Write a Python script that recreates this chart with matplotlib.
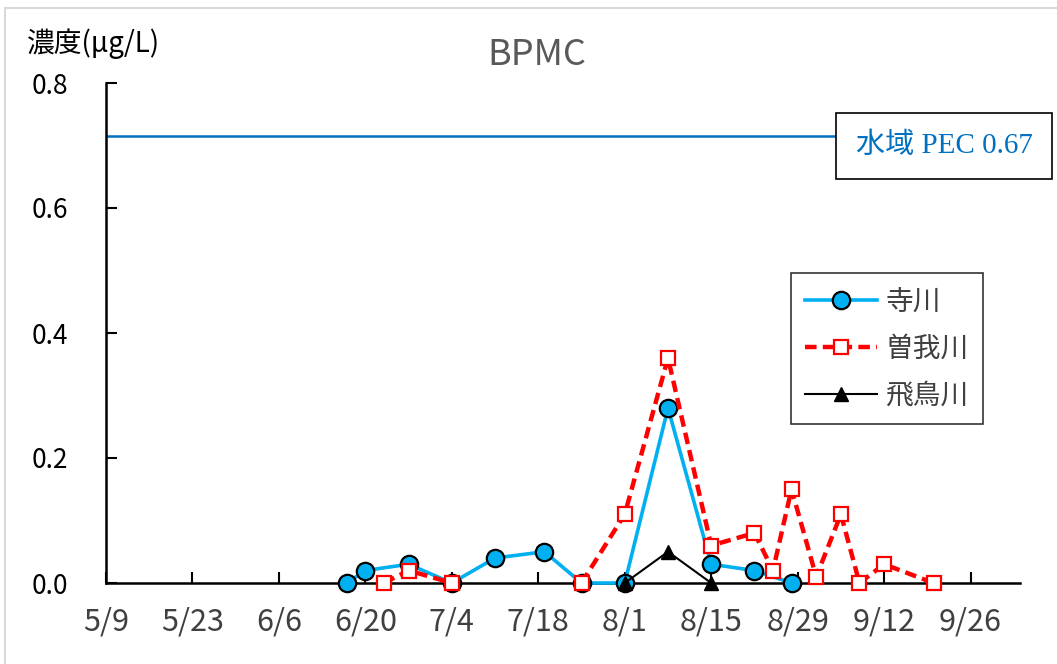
import matplotlib
matplotlib.use("Agg")
import matplotlib.pyplot as plt
from matplotlib.patches import Rectangle
from datetime import date
import numpy as np

plt.rcParams['font.family'] = ['Noto Sans CJK JP', 'DejaVu Sans']

YEAR = 2021

# 寺川
tera_dates = ['6/17', '6/20', '6/27', '7/4', '7/11', '7/19', '7/25', '8/1', '8/8', '8/15', '8/22', '8/28']
tera_vals = [0.0, 0.02, 0.03, 0.0, 0.04, 0.05, 0.0, 0.0, 0.28, 0.03, 0.02, 0.0]

# 曽我川 (no sample in mid July -> gap in the line)
soga_dates = ['6/23', '6/27', '7/4', '7/18', '7/25', '8/1', '8/8', '8/15', '8/22', '8/25', '8/28',
              '9/1', '9/5', '9/8', '9/12', '9/20']
soga_vals = [0.0, 0.02, 0.0, np.nan, 0.0, 0.11, 0.36, 0.06, 0.08, 0.02, 0.15, 0.01, 0.11, 0.0, 0.03, 0.0]

# 飛鳥川
asuka_dates = ['8/1', '8/8', '8/15']
asuka_vals = [0.0, 0.05, 0.0]

pec_level = 0.715
pec_label = '水域 PEC 0.67'

tick_labels = ['5/9', '5/23', '6/6', '6/20', '7/4', '7/18', '8/1', '8/15', '8/29', '9/12', '9/26']


def to_date(s):
    m, d = s.split('/')
    return date(YEAR, int(m), int(d))


fig = plt.figure(figsize=(10.57, 6.64), dpi=100)
ax = fig.add_axes([106 / 1057, 1 - 583 / 664, (1020 - 106) / 1057, 500 / 664])

# light outer frame of the chart area
fig.patches.append(Rectangle((5 / 1057, -0.1), 1.2, 1 - 8 / 664 + 0.1, transform=fig.transFigure,
                             fill=False, edgecolor='#d9d9d9', linewidth=1.5))

ax.axhline(pec_level, color='#0070c0', linewidth=1.8, zorder=1)

ax.plot([to_date(s) for s in tera_dates], tera_vals, color='#00b0f0', linewidth=2.6,
        marker='o', markersize=12.5, markerfacecolor='#00b0f0', markeredgecolor='black',
        markeredgewidth=1.6, label='寺川', zorder=3, clip_on=False)
ax.plot([to_date(s) for s in soga_dates], soga_vals, color='#ff0000', linewidth=3.2,
        linestyle=(0, (2.6, 1.4)), marker='s', markersize=10, markerfacecolor='white',
        markeredgecolor='#ff0000', markeredgewidth=1.6, label='曽我川', zorder=4, clip_on=False)
ax.plot([to_date(s) for s in asuka_dates], asuka_vals, color='black', linewidth=1.5,
        marker='^', markersize=10.5, markerfacecolor='black', markeredgecolor='black',
        label='飛鳥川', zorder=5, clip_on=False)

ax.set_xlim(date(YEAR, 5, 9), date(YEAR, 10, 4))
ax.set_ylim(0, 0.8)
ax.set_xticks([to_date(s) for s in tick_labels])
ax.set_xticklabels(tick_labels, fontsize=22, color='#404040')
ax.set_yticks([0, 0.2, 0.4, 0.6, 0.8])
ax.set_yticklabels(['0.0', '0.2', '0.4', '0.6', '0.8'], fontsize=19, color='black')

ax.spines['top'].set_visible(False)
ax.spines['right'].set_visible(False)
for sp in ('left', 'bottom'):
    ax.spines[sp].set_linewidth(1.8)
    ax.spines[sp].set_zorder(2)
ax.tick_params(axis='both', direction='in', length=8, width=1.5)
ax.tick_params(axis='x', pad=17)
ax.tick_params(axis='y', pad=27)

fig.text(537 / 1057, 1 - 55 / 664, 'BPMC', fontsize=26, color='#595959', ha='center', va='center')
fig.text(27 / 1057, 1 - 44 / 664, '濃度(μg/L)', fontsize=20, va='center', ha='left')

ax.text(944 / 1057, 1 - 146 / 664, pec_label, transform=fig.transFigure,
        family=['Liberation Serif', 'Noto Sans CJK JP'], fontsize=21, color='#0070c0',
        ha='center', va='center', zorder=6,
        bbox=dict(boxstyle='square,pad=0.68', facecolor='white', edgecolor='black', linewidth=1.2))

leg = ax.legend(loc='upper left', bbox_to_anchor=(791 / 1057, 1 - 273 / 664),
                bbox_transform=fig.transFigure, fontsize=20, frameon=True, fancybox=False,
                edgecolor='black', handlelength=2.6, labelspacing=0.6, borderpad=0.5,
                handletextpad=0.3, borderaxespad=0)
leg.get_frame().set_linewidth(1.2)
for t in leg.get_texts():
    t.set_color('#404040')

fig.savefig('out.png', dpi=100)
